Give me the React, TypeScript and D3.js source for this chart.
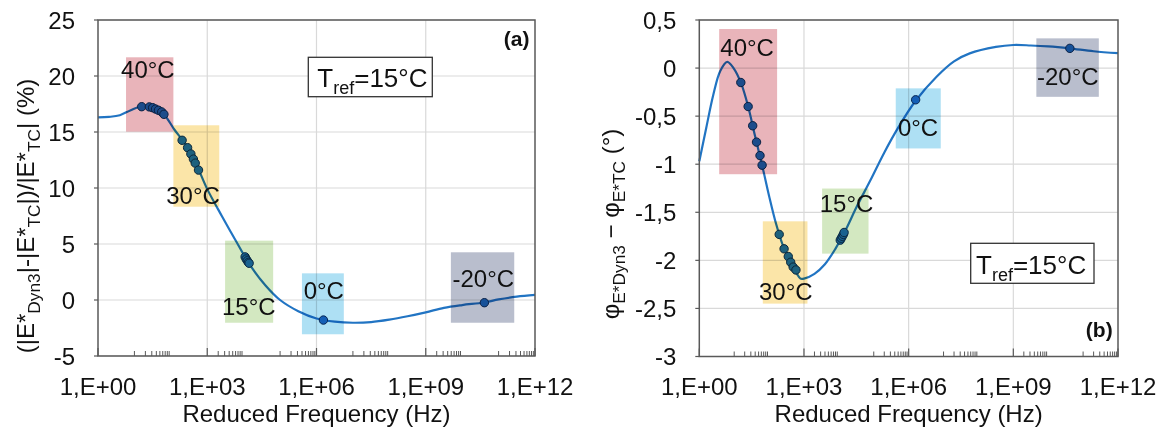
import React from 'react';
import * as d3 from 'd3';

const W = 1169;
const H = 432;
const FONT = '"Liberation Sans", Arial, Helvetica, sans-serif';

// ---------- shared x axis ----------
const xMajorExp = [0, 3, 6, 9, 12];
const xTickLabels = ['1,E+00', '1,E+03', '1,E+06', '1,E+09', '1,E+12'];
const xMinorDecades = [1, 3, 5, 7, 9, 11];
const xMinorMult = [1, 2, 3, 4, 5, 6, 7, 8, 9];
const xTitle = 'Reduced Frequency (Hz)';

// ---------- panel (a) data ----------
const aYTicks = [25, 20, 15, 10, 5, 0, -5];
const aYTickLabels = ['25', '20', '15', '10', '5', '0', '-5'];
const aCurveLogF = [0, 0.3, 0.6, 0.9, 1.2, 1.5, 1.8, 2.1, 2.4, 2.7, 3.0, 3.4, 3.8, 4.2, 4.6, 5.0, 5.5, 6.0, 6.5, 7.0, 7.5, 8.0, 8.5, 9.0, 9.5, 10.0, 10.6, 11.0, 11.5, 12.0];
const aCurveVal = [16.3, 16.35, 16.5, 16.95, 17.3, 17.17, 16.6, 15.2, 13.9, 12.1, 9.9, 7.5, 5.2, 3.0, 1.3, 0.0, -1.0, -1.65, -1.93, -2.03, -1.97, -1.75, -1.45, -1.1, -0.7, -0.45, -0.22, 0.05, 0.3, 0.45];
const aPts40LogF = [1.2, 1.41, 1.5, 1.58, 1.66, 1.75, 1.81];
const aPts40Val = [17.26, 17.24, 17.17, 17.05, 16.94, 16.79, 16.58];
const aPts30LogF = [2.31, 2.46, 2.55, 2.62, 2.67, 2.76];
const aPts30Val = [14.26, 13.6, 13.04, 12.58, 12.22, 11.6];
const aPts15LogF = [4.04, 4.07, 4.1, 4.13, 4.15];
const aPts15Val = [3.85, 3.66, 3.5, 3.36, 3.28];
const aPts0LogF = [6.19];
const aPts0Val = [-1.79];
const aPtsM20LogF = [10.61];
const aPtsM20Val = [-0.24];
const aYTitleParts = [
  ['(|E*', 'n'], ['Dyn3', 's'], ['|-|E*', 'n'], ['TC', 's'], ['|)/|E*', 'n'], ['TC', 's'], ['| (%)', 'n'],
];

// ---------- panel (b) data ----------
const bYTicks = [0.5, 0, -0.5, -1, -1.5, -2, -2.5, -3];
const bYTickLabels = ['0,5', '0', '-0,5', '-1', '-1,5', '-2', '-2,5', '-3'];
const bCurveLogF = [0, 0.2, 0.4, 0.6, 0.8, 1.0, 1.2, 1.4, 1.6, 1.8, 2.0, 2.2, 2.4, 2.6, 2.8, 2.9, 3.0, 3.3, 3.6, 3.9, 4.2, 4.5, 4.9, 5.3, 5.7, 6.2, 6.8, 7.3, 7.75, 8.5, 9.0, 9.5, 10.0, 10.6, 11.3, 12.0];
const bCurveVal = [-0.97, -0.62, -0.28, -0.03, 0.065, -0.01, -0.16, -0.4, -0.71, -1.01, -1.33, -1.62, -1.85, -2.01, -2.14, -2.19, -2.19, -2.14, -2.04, -1.88, -1.68, -1.45, -1.17, -0.88, -0.62, -0.34, -0.09, 0.07, 0.153, 0.22, 0.24, 0.235, 0.225, 0.205, 0.175, 0.155];
const bPts40LogF = [1.19, 1.4, 1.53, 1.64, 1.74, 1.8];
const bPts40Val = [-0.15, -0.4, -0.6, -0.77, -0.91, -1.01];
const bPts30LogF = [2.29, 2.43, 2.55, 2.62, 2.69, 2.77];
const bPts30Val = [-1.73, -1.88, -1.96, -2.02, -2.07, -2.1];
const bPts15LogF = [4.04, 4.07, 4.1, 4.13, 4.15];
const bPts15Val = [-1.79, -1.77, -1.75, -1.73, -1.71];
const bPts0LogF = [6.2];
const bPts0Val = [-0.33];
const bPtsM20LogF = [10.62];
const bPtsM20Val = [0.205];
const bYTitleParts = [
  ['φ', 'n'], ['E*Dyn3', 's'], [' − φ', 'n'], ['E*TC', 's'], [' (°)', 'n'],
];

// temperature annotation boxes: [label, logF0, logF1, v0, v1, labelLogF, labelV, colour]
const tempLabels = ['40°C', '30°C', '15°C', '0°C', '-20°C'];
const tempColors = ['#E9B4BA', '#FBE5A8', '#D3E8C1', '#AEE0F4', '#B9BECD'];
const aBoxLogF0 = [0.77, 2.07, 3.49, 5.6, 9.69];
const aBoxLogF1 = [2.07, 3.33, 4.81, 6.75, 11.43];
const aBoxV0 = [21.67, 15.6, 5.3, 2.38, 4.26];
const aBoxV1 = [15.03, 8.33, -2.03, -3.06, -2.03];
const aLabLogF = [1.37, 2.61, 4.14, 6.2, 10.58];
const aLabV = [19.82, 8.57, -1.34, 0.06, 1.13];
const bBoxLogF0 = [0.57, 1.82, 3.52, 5.63, 9.66];
const bBoxLogF1 = [2.23, 3.1, 4.85, 6.92, 11.45];
const bBoxV0 = [0.406, -1.594, -1.253, -0.211, 0.309];
const bBoxV1 = [-1.104, -2.45, -1.93, -0.836, -0.299];
const bLabLogF = [1.37, 2.48, 4.22, 6.27, 10.56];
const bLabV = [0.125, -2.417, -1.497, -0.708, -0.177];

const LINE = '#2174C3';
const PT_FILL = '#1E6CBE';
const PT_STROKE = '#0B2B57';
const GRID = '#D9D9D9';
const FRAME = '#595959';

type PanelCfg = {
  left: number; right: number; top: number; bottom: number;
  yDomain: [number, number];
  yTicks: number[]; yTickLabels: string[];
  curveLogF: number[]; curveVal: number[];
  ptsLogF: number[][]; ptsVal: number[][];
  boxLogF0: number[]; boxLogF1: number[]; boxV0: number[]; boxV1: number[];
  labLogF: number[]; labV: number[];
  yTitleParts: string[][]; yTitleX: number; yTitleY: number; subScale: number;
  tref: { x: number; y: number; w: number; h: number; tx: number; ty: number };
  tag: string; tagX: number; tagY: number;
};

function Panel({ c }: { c: PanelCfg }) {
  const x = d3.scaleLog().domain([1, 1e12]).range([c.left, c.right]);
  const y = d3.scaleLinear().domain(c.yDomain).range([c.bottom, c.top]);
  const line = d3.line<[number, number]>()
    .x((d) => x(Math.pow(10, d[0])))
    .y((d) => y(d[1]))
    .curve(d3.curveCatmullRom.alpha(0.5));
  const curvePts: [number, number][] = c.curveLogF.map((l, i) => [l, c.curveVal[i]]);
  const minor: number[] = [];
  xMinorDecades.forEach((k) => xMinorMult.forEach((m) => {
    if (!(m === 1 && k % 3 === 0)) minor.push(m * Math.pow(10, k));
  }));
  const fs = 24;
  return (
    <g fontFamily={FONT}>
      {/* grid */}
      {c.yTicks.map((t, i) => (
        <line key={'gy' + i} x1={c.left} x2={c.right} y1={y(t)} y2={y(t)} stroke={GRID} strokeWidth={1.2} />
      ))}
      {xMajorExp.slice(1, -1).map((e) => (
        <line key={'gx' + e} x1={x(Math.pow(10, e))} x2={x(Math.pow(10, e))} y1={c.top} y2={c.bottom} stroke={GRID} strokeWidth={1.2} />
      ))}
      {/* curve */}
      <path d={line(curvePts) || ''} fill="none" stroke={LINE} strokeWidth={2.2} />
      {c.ptsLogF.map((arr, g) => arr.map((l, i) => (
        <circle key={'p' + g + '_' + i} cx={x(Math.pow(10, l))} cy={y(c.ptsVal[g][i])} r={4.2} fill={PT_FILL} stroke={PT_STROKE} strokeWidth={1} />
      )))}
      {/* temperature boxes (multiply over the curve) */}
      {tempLabels.map((t, i) => {
        const x0 = x(Math.pow(10, c.boxLogF0[i]));
        const x1 = x(Math.pow(10, c.boxLogF1[i]));
        const y0 = y(c.boxV0[i]);
        const y1 = y(c.boxV1[i]);
        return (
          <rect key={'b' + i} x={x0} y={y0} width={x1 - x0} height={y1 - y0} fill={tempColors[i]} style={{ mixBlendMode: 'multiply' }} />
        );
      })}
      {tempLabels.map((t, i) => (
        <text key={'l' + i} x={x(Math.pow(10, c.labLogF[i]))} y={y(c.labV[i])} fontSize={fs} textAnchor="middle" fill="#111">{t}</text>
      ))}
      {/* frame */}
      <rect x={c.left} y={c.top} width={c.right - c.left} height={c.bottom - c.top} fill="none" stroke={FRAME} strokeWidth={1.5} />
      {/* x ticks */}
      {xMajorExp.map((e) => (
        <line key={'mx' + e} x1={x(Math.pow(10, e))} x2={x(Math.pow(10, e))} y1={c.bottom} y2={c.bottom - 8} stroke={FRAME} strokeWidth={1.2} />
      ))}
      {minor.map((v, i) => (
        <line key={'mn' + i} x1={x(v)} x2={x(v)} y1={c.bottom} y2={c.bottom - 5} stroke={FRAME} strokeWidth={1} />
      ))}
      {xMajorExp.map((e, i) => (
        <text key={'xl' + e} x={x(Math.pow(10, e))} y={395} fontSize={fs} textAnchor="middle" fill="#111">{xTickLabels[i]}</text>
      ))}
      <text x={(c.left + c.right) / 2} y={421.5} fontSize={fs} textAnchor="middle" fill="#111">{xTitle}</text>
      {/* y ticks */}
      {c.yTicks.map((t, i) => (
        <g key={'yt' + i}>
          <line x1={c.left - 4} x2={c.left} y1={y(t)} y2={y(t)} stroke={FRAME} strokeWidth={1.2} />
          <text x={c.left - 23} y={y(t)} dy="0.36em" fontSize={fs} textAnchor="end" fill="#111">{c.yTickLabels[i]}</text>
        </g>
      ))}
      {/* y title */}
      <text transform={`translate(${c.yTitleX},${c.yTitleY}) rotate(-90)`} fontSize={fs} textAnchor="middle" fill="#111">
        {c.yTitleParts.map((p, i) => {
          const prevSub = i > 0 && c.yTitleParts[i - 1][1] === 's';
          const isSub = p[1] === 's';
          let dy = 0;
          if (isSub) dy = 6;
          else if (prevSub) dy = -6;
          return (
            <tspan key={i} dy={dy} fontSize={isSub ? fs * c.subScale : fs}>{p[0]}</tspan>
          );
        })}
      </text>
      {/* Tref box */}
      <rect x={c.tref.x} y={c.tref.y} width={c.tref.w} height={c.tref.h} fill="#fff" stroke="#333" strokeWidth={1.3} />
      <text x={c.tref.tx} y={c.tref.ty} fontSize={26} fill="#111">
        <tspan>T</tspan>
        <tspan dy={7} fontSize={18}>ref</tspan>
        <tspan dy={-7}>=15°C</tspan>
      </text>
      <text x={c.tagX} y={c.tagY} fontSize={21} fontWeight="bold" textAnchor="end" fill="#111">{c.tag}</text>
    </g>
  );
}

const panelA: PanelCfg = {
  left: 98, right: 535, top: 20, bottom: 356,
  yDomain: [-5, 25], yTicks: aYTicks, yTickLabels: aYTickLabels,
  curveLogF: aCurveLogF, curveVal: aCurveVal,
  ptsLogF: [aPts40LogF, aPts30LogF, aPts15LogF, aPts0LogF, aPtsM20LogF],
  ptsVal: [aPts40Val, aPts30Val, aPts15Val, aPts0Val, aPtsM20Val],
  boxLogF0: aBoxLogF0, boxLogF1: aBoxLogF1, boxV0: aBoxV0, boxV1: aBoxV1,
  labLogF: aLabLogF, labV: aLabV,
  yTitleParts: aYTitleParts, yTitleX: 34, yTitleY: 216, subScale: 0.72,
  tref: { x: 308.3, y: 57.3, w: 124, h: 39.4, tx: 317.3, ty: 87.3 },
  tag: '(a)', tagX: 529.5, tagY: 45.5,
};

const panelB: PanelCfg = {
  left: 699.3, right: 1118, top: 20, bottom: 356.5,
  yDomain: [-3, 0.5], yTicks: bYTicks, yTickLabels: bYTickLabels,
  curveLogF: bCurveLogF, curveVal: bCurveVal,
  ptsLogF: [bPts40LogF, bPts30LogF, bPts15LogF, bPts0LogF, bPtsM20LogF],
  ptsVal: [bPts40Val, bPts30Val, bPts15Val, bPts0Val, bPtsM20Val],
  boxLogF0: bBoxLogF0, boxLogF1: bBoxLogF1, boxV0: bBoxV0, boxV1: bBoxV1,
  labLogF: bLabLogF, labV: bLabV,
  yTitleParts: bYTitleParts, yTitleX: 619, yTitleY: 224, subScale: 0.72,
  tref: { x: 970.7, y: 243.3, w: 123.3, h: 40, tx: 976, ty: 274 },
  tag: '(b)', tagX: 1112.7, tagY: 337,
};

export default function App() {
  return (
    <svg width={W} height={H} viewBox={`0 0 ${W} ${H}`} style={{ position: 'absolute', left: 0, top: 0, background: '#fff' }}>
      <rect x={0} y={0} width={W} height={H} fill="#fff" />
      <Panel c={panelA} />
      <Panel c={panelB} />
    </svg>
  );
}
